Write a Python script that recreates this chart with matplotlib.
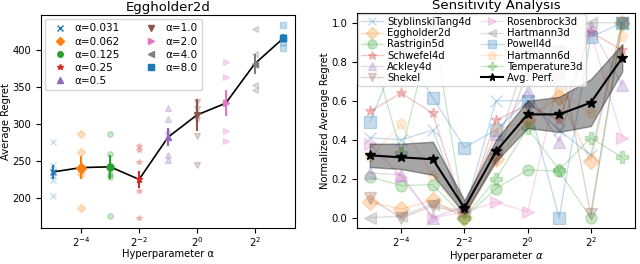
import numpy as np
import matplotlib.pyplot as plt
from matplotlib.ticker import LogFormatterSciNotation, NullLocator

# ---- left panel: Eggholder2d ----
alphas = [0.03125, 0.0625, 0.125, 0.25, 0.5, 1.0, 2.0, 4.0, 8.0]
alpha_labels = ['α=0.031', 'α=0.062', 'α=0.125', 'α=0.25', 'α=0.5',
                'α=1.0', 'α=2.0', 'α=4.0', 'α=8.0']
egg_mean = [235, 241, 242, 225, 282, 312, 328, 381, 416]
egg_err = [9, 15, 16, 12, 12, 22, 18, 13, 6]
egg_runs = [
    [276, 244, 231, 224, 203],
    [287, 262, 232, 238, 186],
    [286, 260, 228, 232, 175],
    [270, 265, 248, 209, 173],
    [321, 306, 258, 251, 290],
    [330, 283, 244, 320, 305],
    [383, 363, 291, 277, 330],
    [428, 352, 346, 395, 380],
    [434, 418, 410, 403, 415],
]
egg_markers = ['x', 'D', 'o', '*', '^', 'v', '>', '<', 's']
egg_colors = ['tab:blue', 'tab:orange', 'tab:green', 'tab:red', 'tab:purple',
              'tab:brown', 'tab:pink', 'tab:gray', 'tab:blue']

# ---- right panel: sensitivity analysis ----
problems = ['StyblinskiTang4d', 'Eggholder2d', 'Rastrigin5d', 'Schwefel4d',
            'Ackley4d', 'Shekel', 'Rosenbrock3d', 'Hartmann3d', 'Powell4d',
            'Hartmann6d', 'Temperature3d']
prob_markers = ['x', 'D', 'o', '*', '^', 'v', '>', '<', 's', 'p', 'P']
prob_colors = ['tab:blue', 'tab:orange', 'tab:green', 'tab:red', 'tab:purple',
               'tab:brown', 'tab:pink', 'tab:gray', 'tab:blue', '#ffb060',
               'tab:green']
styblinski = [0.41, 0.40, 0.45, 0.03, 0.60, 0.60, 0.45, 0.32, 1.00]
eggholder = [0.08, 0.045, 0.09, 0.00, 0.30, 0.50, 0.62, 0.29, 1.00]
rastrigin = [0.21, 0.165, 0.17, 0.00, 0.15, 0.245, 0.24, 0.00, 1.00]
schwefel = [0.545, 0.64, 0.535, 0.02, 0.50, 0.58, 0.50, 0.95, 0.86]
ackley = [0.23, 0.22, 0.00, 0.06, 0.43, 0.65, 0.39, 0.98, 0.68]
shekel = [0.10, 0.00, 0.06, 0.02, 0.30, 0.75, 0.85, 0.02, 1.00]
rosenbrock = [0.38, 0.21, 0.00, 0.03, 0.08, 0.03, 0.72, 0.95, 0.41]
hartmann3 = [0.00, 0.01, 0.07, 0.03, 0.35, 0.85, 0.95, 1.00, 1.00]
powell = [0.49, 0.88, 0.615, 0.36, 0.45, 0.60, 0.00, 0.925, 1.00]
hartmann6 = [0.31, 0.48, 0.215, 0.00, 0.45, 0.495, 0.65, 0.535, 0.925]
temperature = [0.90, 0.33, 1.00, 0.00, 0.20, 0.46, 0.245, 0.41, 0.31]
prob_values = [styblinski, eggholder, rastrigin, schwefel, ackley, shekel,
               rosenbrock, hartmann3, powell, hartmann6, temperature]

avg_perf = [0.32, 0.31, 0.30, 0.05, 0.34, 0.53, 0.53, 0.59, 0.82]
avg_low = [0.26, 0.25, 0.22, 0.02, 0.29, 0.46, 0.44, 0.47, 0.75]
avg_high = [0.38, 0.38, 0.39, 0.09, 0.40, 0.60, 0.62, 0.71, 0.89]

plt.rcParams['font.size'] = 7.2
plt.rcParams['xtick.major.pad'] = 2

fig = plt.figure(figsize=(6.4, 2.64), dpi=100)
ax1 = fig.add_axes([0.064, 0.138, 0.397, 0.805])
ax2 = fig.add_axes([0.558, 0.138, 0.434, 0.813])

# left panel
for i, a in enumerate(alphas):
    ax1.plot([a] * len(egg_runs[i]), egg_runs[i], linestyle='none',
             marker=egg_markers[i], color=egg_colors[i], alpha=0.25,
             markersize=4)
ax1.plot(alphas, egg_mean, color='black', linewidth=1.2, zorder=2)
for i, a in enumerate(alphas):
    ax1.errorbar([a], [egg_mean[i]], yerr=[egg_err[i]], marker=egg_markers[i],
                 color=egg_colors[i], markersize=5, elinewidth=1.5,
                 linestyle='none', zorder=3)
    ax1.plot([], [], marker=egg_markers[i], color=egg_colors[i],
             markersize=4, linestyle='none', label=alpha_labels[i])
ax1.set_xscale('log', base=2)
ax1.set_title('Eggholder2d', fontsize=9.5, pad=3)
ax1.set_xlabel('Hyperparameter α', labelpad=0)
ax1.set_ylabel('Average Regret', labelpad=1)
ax1.set_yticks([200, 250, 300, 350, 400])
ax1.legend(ncol=2, loc='upper left', fontsize=7.5, handletextpad=0.4,
           columnspacing=2.0, labelspacing=0.3, borderaxespad=0.4)

# right panel
for vals, name, mk, col in zip(prob_values, problems, prob_markers, prob_colors):
    ax2.plot(alphas, vals, marker=mk, color=col, alpha=0.25, markersize=8,
             linewidth=1, label=name)
ax2.fill_between(alphas, avg_low, avg_high, color='black', alpha=0.35,
                 zorder=3)
ax2.plot(alphas, avg_perf, color='black', marker='*', markersize=7,
         linewidth=1.5, label='Avg. Perf.', zorder=4)
ax2.set_xscale('log', base=2)
ax2.set_title('Sensitivity Analysis', fontsize=9.5, pad=3)
ax2.set_xlabel('Hyperparameter $\\alpha$', labelpad=0)
ax2.set_ylabel('Normalized Average Regret', labelpad=1)
ax2.set_yticks([0.0, 0.2, 0.4, 0.6, 0.8, 1.0])
ax2.legend(ncol=2, loc='upper left', fontsize=7.2, handletextpad=0.4,
           columnspacing=1.0, labelspacing=0.12, borderaxespad=0.1,
           borderpad=0.3, handlelength=2.2, markerscale=0.8)

for ax in (ax1, ax2):
    ax.set_xticks([2 ** -4, 2 ** -2, 1, 4])
    ax.xaxis.set_major_formatter(LogFormatterSciNotation(base=2))
    ax.xaxis.set_minor_locator(NullLocator())

fig.savefig('out.png', dpi=100)
